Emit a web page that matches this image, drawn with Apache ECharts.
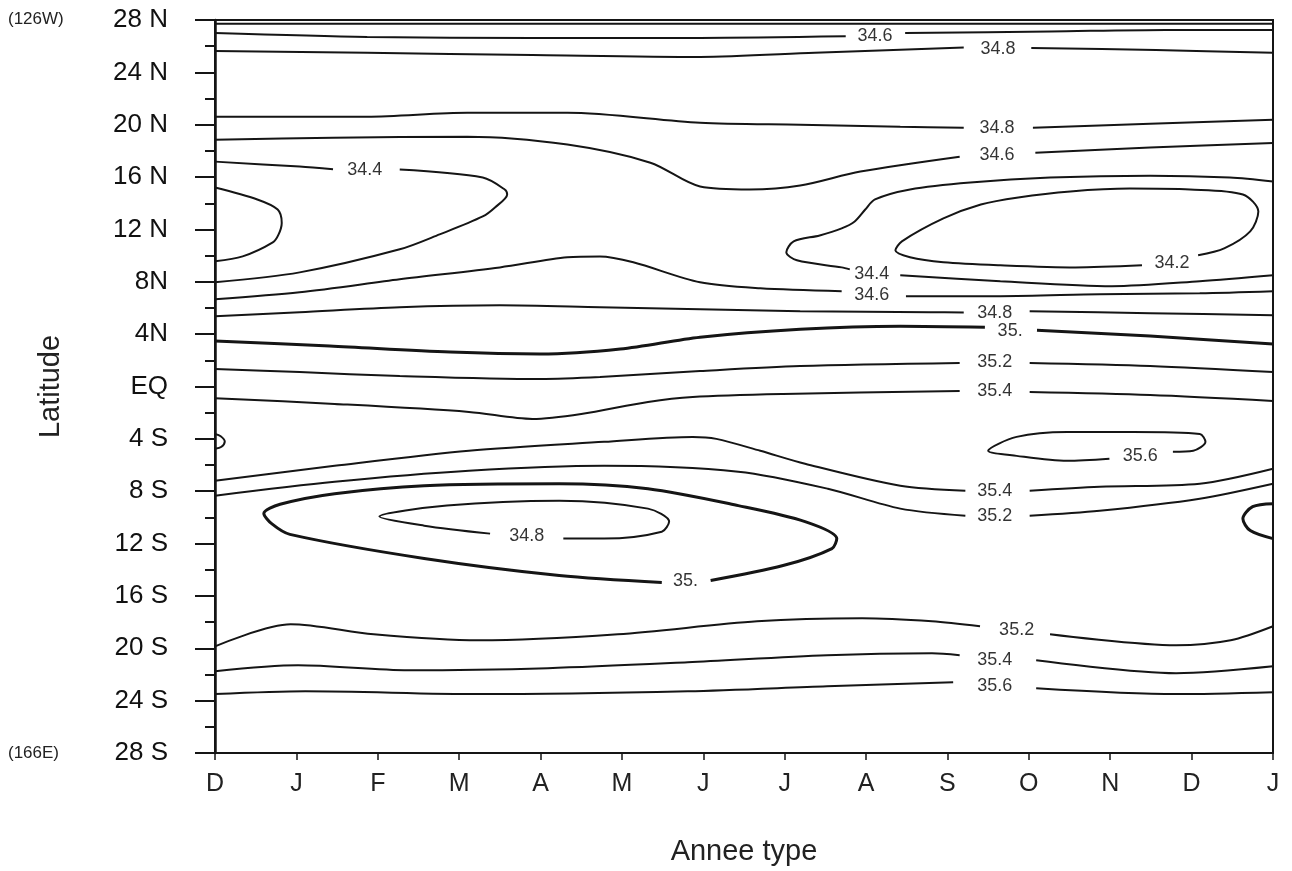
<!DOCTYPE html>
<html>
<head>
<meta charset="utf-8">
<script src="https://cdn.jsdelivr.net/npm/echarts@6/dist/echarts.min.js"></script>
<style>
html,body{margin:0;padding:0;background:#fff;}
#chart{width:1292px;height:871px;}
</style>
</head>
<body>
<div id="chart"></div>
<script>
// x: month index (0 = D ... 13 = J), y: latitude (+N / -S)
const months = ['D','J','F','M','A','M','J','J','A','S','O','N','D','J'];
const latLabels = ['28 N','24 N','20 N','16 N','12 N','8N','4N','EQ','4 S','8 S','12 S','16 S','20 S','24 S','28 S'];

// contour lines (null = gap for inline label)
const edge28N   = [[0,27.72],[13,27.72]];
const c346Top   = [[0,27.0],[1.87,26.7],[3.9,26.63],[5.96,26.63],[7.75,26.75],null,[8.48,27.0],[10.26,27.12],[11.68,27.24],[13,27.24]];
const c348Top   = [[0,25.64],[1.87,25.49],[3.9,25.33],[5.96,25.18],[7.37,25.49],[9.2,25.9],null,[10.03,25.87],[11.56,25.71],[13,25.49]];
const c348N20   = [[0,20.61],[1.87,20.61],[3.1,20.91],[4.33,20.91],[5.96,20.15],[7.19,20.0],[8.42,19.85],[9.2,19.77],null,[10.05,19.77],[11.49,20.08],[13,20.38]];
const c346N18   = [[0,18.86],[1.45,19.01],[3.1,19.09],[4.33,18.48],[5.35,17.1],[5.96,15.28],[6.57,15.05],[7.19,15.35],[7.93,16.42],[9.15,17.56],null,[10.08,17.86],[11.49,18.25],[13,18.6]];
const c344West  = [[0,17.18],[1.04,16.8],[1.45,16.6],null,[2.27,16.57],[3.29,15.96],[3.56,15.05],[3.59,14.67],[3.44,13.68],[3.29,12.99],[2.76,11.62],[2.27,10.48],[1.04,8.72],[0,7.96]];
const c342West  = [[0,15.2],[0.52,14.29],[0.77,13.52],[0.82,12.5],[0.78,11.6],[0.71,11.01],[0.34,9.94],[0,9.56]];
const c344East  = [[13,15.66],[12.47,15.96],[11.49,16.11],[10.26,15.96],[9.28,15.58],[8.54,15.05],[8.11,14.29],[7.99,13.52],[7.86,12.61],[7.7,12.08],[7.43,11.54],[7.11,11.09],[7.02,10.25],[7.15,9.64],[7.7,9.1],[7.8,8.95],null,[8.42,8.5],[9.65,8.04],[11.02,7.66],[12.1,8.04],[13,8.5]];
const c342East  = [[11.39,9.26],[10.57,9.1],[9.65,9.26],[8.95,9.49],[8.54,9.87],[8.36,10.4],[8.44,11.09],[8.95,12.84],[9.41,13.9],[9.87,14.44],[10.51,14.9],[11.24,15.12],[11.98,15.05],[12.63,14.67],[12.82,13.37],[12.72,11.85],[12.4,10.55],[12.08,10.02]];
const c346N7    = [[0,6.67],[1.04,7.2],[2.27,8.19],[3.5,9.1],[4.33,9.87],[4.73,9.94],[5.14,9.49],[5.96,7.96],[6.7,7.5],[7.7,7.28],null,[8.49,6.9],[9.65,6.9],[10.87,7.05],[12.1,7.12],[13,7.28]];
const c348N5    = [[0,5.37],[1.04,5.68],[2.27,6.06],[3.5,6.21],[4.73,6.06],[5.96,5.9],[7.19,5.75],[8.79,5.68],[9.2,5.65],null,[10.01,5.75],[11.49,5.6],[13,5.45]];
const c350N4    = [[0,3.47],[1.41,3.09],[2.89,2.63],[3.99,2.48],[4.98,2.86],[5.96,3.77],[7.19,4.38],[8.42,4.61],[9.46,4.53],null,[10.1,4.3],[11.49,3.85],[13,3.24]];
const c352N1    = [[0,1.33],[1.04,1.1],[2.27,0.8],[3.99,0.57],[4.73,0.72],[5.96,1.18],[7.19,1.56],[9.15,1.79],null,[10.01,1.79],[11.49,1.56],[13,1.1]];
const c354S1    = [[0,-0.9],[1.47,-1.33],[3.12,-1.94],[3.9,-2.48],[4.5,-2.1],[5.32,-1.18],[5.87,-0.8],[6.98,-0.57],[9.15,-0.34],null,[10.01,-0.42],[11.49,-0.65],[13,-1.1]];
const c356West  = [[0,-3.62],[0.07,-3.8],[0.12,-4.2],[0.08,-4.6],[0,-4.76]];
const c356East  = [[10.99,-5.52],[10.47,-5.68],[9.85,-5.3],[9.5,-4.91],[9.85,-3.85],[10.47,-3.47],[11.28,-3.47],[12.1,-3.62],[12.17,-4.23],[12.02,-4.91],[11.77,-4.99]];
const c354S7    = [[0,-7.2],[1.47,-6.06],[3.12,-4.91],[4.78,-4.23],[5.87,-3.85],[6.16,-4.0],[6.7,-4.91],[7.25,-5.9],[8.42,-7.58],[9.22,-7.96],null,[10.01,-7.96],[10.87,-7.66],[12.1,-7.43],[13,-6.29]];
const c352S9    = [[0,-8.34],[1.47,-7.28],[3.12,-6.44],[4.78,-6.06],[6.43,-6.51],[7.53,-7.81],[8.42,-9.33],[9.22,-9.87],null,[10.01,-9.87],[10.87,-9.49],[12.1,-8.57],[13,-7.43]];
const c350West  = [[6.09,-14.82],[6.98,-13.68],[7.58,-12.38],[7.64,-11.62],[7.25,-10.32],[6.43,-9.1],[5.32,-7.81],[4.23,-7.43],[2.57,-7.58],[1.47,-8.19],[0.8,-9.0],[0.6,-9.7],[0.7,-10.5],[0.92,-11.3],[2.57,-13.14],[4.23,-14.44],[5.49,-14.97]];
const c348South = [[4.28,-11.62],[4.78,-11.62],[5.49,-11.09],[5.58,-10.32],[5.32,-9.33],[4.23,-8.72],[2.85,-9.1],[2.02,-9.94],[2.57,-10.63],[3.38,-11.24]];
const c350East  = [[13,-8.95],[12.75,-9.18],[12.63,-10.1],[12.72,-11.01],[13,-11.62]];
const c352S19   = [[0,-19.85],[0.93,-18.17],[1.95,-18.93],[3.24,-19.39],[4.95,-18.93],[6.66,-17.94],[7.95,-17.71],[8.81,-17.94],[9.4,-18.32],null,[10.26,-18.93],[11.81,-19.77],[12.48,-19.39],[13,-18.32]];
const c354S21   = [[0,-21.75],[1.02,-21.3],[2.38,-21.68],[4.09,-21.52],[5.81,-21.07],[7.52,-20.53],[8.81,-20.38],[9.15,-20.53],null,[10.09,-20.91],[11.81,-21.9],[13,-21.37]];
const c356S23   = [[0,-23.5],[1.11,-23.28],[3.24,-23.5],[5.81,-23.28],[7.52,-22.9],[9.07,-22.59],null,[10.09,-23.05],[11.81,-23.5],[13,-23.35]];

const thinLines  = [edge28N,c346Top,c348Top,c348N20,c346N18,c344West,c342West,c344East,c342East,c346N7,c348N5,c352N1,c354S1,c356West,c356East,c354S7,c352S9,c348South,c352S19,c354S21,c356S23];
const thickLines = [c350N4,c350West,c350East];

// inline contour labels [month, lat, text]
const contourLabels = [
  [8.11,26.8,'34.6'],[9.62,25.8,'34.8'],[9.61,19.77,'34.8'],[9.61,17.71,'34.6'],
  [1.84,16.57,'34.4'],[11.76,9.45,'34.2'],[8.07,8.6,'34.4'],[8.07,6.97,'34.6'],
  [9.58,5.6,'34.8'],[9.77,4.25,'35.'],[9.58,1.85,'35.2'],[9.58,-0.34,'35.4'],
  [11.37,-5.3,'35.6'],[9.58,-7.96,'35.4'],[9.58,-9.87,'35.2'],[3.83,-11.39,'34.8'],
  [5.78,-14.9,'35.'],[9.85,-18.6,'35.2'],[9.58,-20.91,'35.4'],[9.58,-22.9,'35.6']
];

const FONT = '"Liberation Sans", Arial, Helvetica, sans-serif';
const INK = '#151515';

function segments(arr){
  const out=[]; let cur=[];
  arr.forEach(p=>{ if(p===null){ if(cur.length) out.push(cur); cur=[]; } else cur.push(p); });
  if(cur.length) out.push(cur);
  return out;
}
const series=[];
function addLines(list,width){
  list.forEach(arr=>segments(arr).forEach(seg=>{
    series.push({type:'line',data:seg,smooth:0.3,showSymbol:false,symbol:'none',silent:true,
      lineStyle:{color:INK,width:width},z:3});
  }));
}
addLines(thinLines,2);
addLines(thickLines,3);
series.push({type:'scatter',data:contourLabels.map(d=>[d[0],d[1],d[2]]),symbolSize:2,
  itemStyle:{color:'rgba(255,255,255,0)'},silent:true,z:5,
  label:{show:true,position:'inside',formatter:p=>p.data[2],color:'#000',textBorderWidth:0,
    fontSize:18,fontFamily:FONT}});

const chart = echarts.init(document.getElementById('chart'),null,{renderer:'canvas'});
chart.setOption({
  animation:false,
  backgroundColor:'#fff',
  grid:{left:215,right:19,top:20,bottom:116,show:true,borderColor:INK,borderWidth:2,backgroundColor:'transparent'},
  xAxis:{type:'value',min:0,max:13,interval:1,
    axisLine:{onZero:false,lineStyle:{color:INK,width:2}},
    axisTick:{show:true,length:7,lineStyle:{color:INK,width:1.5}},
    axisLabel:{formatter:v=>months[v],fontSize:25,color:'#222',margin:19,fontFamily:FONT},
    splitLine:{show:false},
    name:'Annee type',nameLocation:'middle',nameGap:84,
    nameTextStyle:{fontSize:29,color:'#222',fontFamily:FONT}},
  yAxis:{type:'value',min:-28,max:28,interval:4,
    axisLine:{show:true,onZero:false,lineStyle:{color:INK,width:2.5}},
    axisTick:{show:true,length:20,lineStyle:{color:INK,width:2}},
    minorTick:{show:true,splitNumber:2,length:10,lineStyle:{color:INK,width:2}},
    axisLabel:{formatter:v=>latLabels[Math.round((28-v)/4)],fontSize:26,color:'#111',margin:47,fontFamily:FONT},
    splitLine:{show:false},minorSplitLine:{show:false},
    name:'Latitude',nameLocation:'middle',nameRotate:90,nameGap:150,
    nameTextStyle:{fontSize:29,color:'#222',fontFamily:FONT}},
  graphic:[
    {type:'text',left:8,top:11,style:{text:'(126W)',fontSize:17,fill:'#222',fontFamily:FONT}},
    {type:'text',left:8,top:745,style:{text:'(166E)',fontSize:17,fill:'#222',fontFamily:FONT}}
  ],
  series:series
});
</script>
</body>
</html>
